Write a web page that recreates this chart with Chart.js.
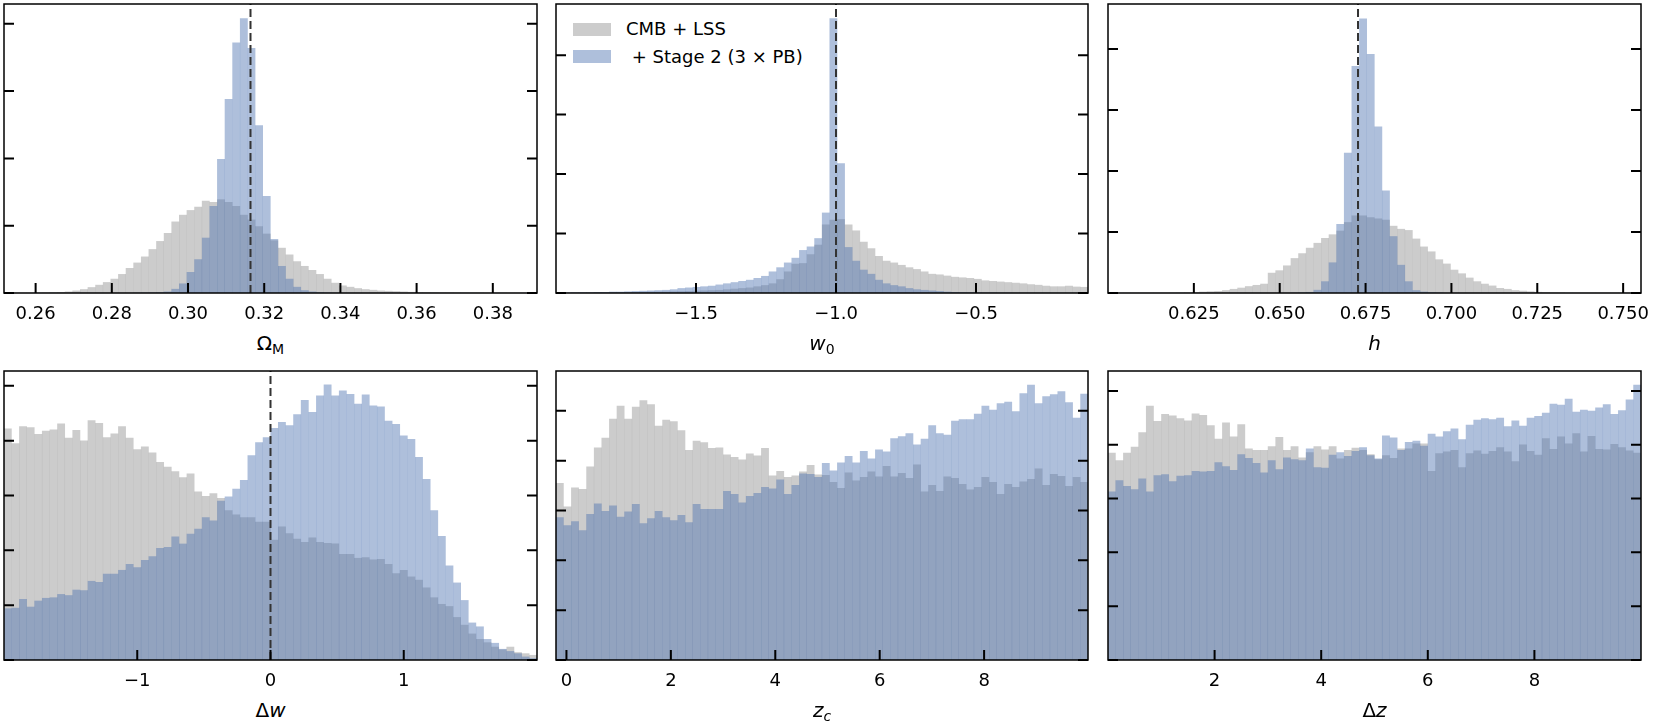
<!DOCTYPE html>
<html>
<head>
<meta charset="utf-8">
<script src="https://cdn.jsdelivr.net/npm/chart.js@4.4.1/dist/chart.umd.min.js"></script>
<style>
  html, body { margin: 0; padding: 0; background: #fff; overflow: hidden; }
  #figure { position: relative; width: 1661px; height: 727px; font-family: 'DejaVu Sans', sans-serif; color: #000; }
  #figure canvas { position: absolute; }
  .axis-title { position: absolute; text-align: center; font-size: 20px; line-height: 24px; white-space: nowrap; }
  .axis-title sub { font-size: 70%; line-height: 0; vertical-align: -0.3em; }
  .legend-patch { position: absolute; left: 573px; width: 38px; height: 13px; }
  .legend-text { position: absolute; left: 626px; font-size: 18px; line-height: 22px; white-space: pre; }
</style>
</head>
<body>
<div id="figure">
  <div class="legend-patch" style="top: 23px; background: rgba(128,128,128,0.4);"></div>
  <div class="legend-text" style="top: 18px;">CMB + LSS</div>
  <div class="legend-patch" style="top: 50px; background: rgba(76,114,176,0.45);"></div>
  <div class="legend-text" style="top: 46px;"> + Stage 2 (3 × PB)</div>
</div>
<script>
// Histogram heights per bin, in units of one y tick step (70 bins per panel)
const OMEGA_GRAY = [0, 0, 0, 0, 0.003, 0.005, 0.008, 0.012, 0.02, 0.035,
  0.055, 0.085, 0.12, 0.16, 0.21, 0.28, 0.37, 0.45, 0.54, 0.65,
  0.77, 0.89, 1.06, 1.16, 1.23, 1.28, 1.37, 1.35, 1.39, 1.35,
  1.29, 1.16, 1.09, 0.99, 0.88, 0.78, 0.67, 0.57, 0.47, 0.40,
  0.34, 0.28, 0.21, 0.15, 0.11, 0.09, 0.07, 0.055, 0.045, 0.035,
  0.03, 0.025, 0.02, 0.015, 0.012, 0.01, 0.008, 0.006, 0.005, 0.004,
  0.003, 0.002, 0.002, 0.001, 0.001, 0.002, 0, 0, 0, 0];
const OMEGA_BLUE = [0, 0, 0, 0, 0, 0, 0, 0, 0, 0,
  0, 0, 0, 0, 0, 0, 0, 0.002, 0.004, 0.006,
  0.01, 0.02, 0.06, 0.14, 0.31, 0.50, 0.82, 1.29, 1.99, 2.88,
  3.72, 4.08, 3.64, 2.49, 1.44, 0.80, 0.40, 0.21, 0.09, 0.04,
  0.02, 0.01, 0.005, 0.002, 0, 0, 0, 0, 0, 0,
  0, 0, 0, 0, 0, 0, 0, 0, 0, 0,
  0, 0, 0, 0, 0, 0, 0, 0, 0, 0];
const OMEGA_RANGE = [0.2517, 0.3916];
const OMEGA_TICKS = [0.26, 0.28, 0.30, 0.32, 0.34, 0.36, 0.38];
const OMEGA_LABELS = ['0.26', '0.28', '0.30', '0.32', '0.34', '0.36', '0.38'];
const OMEGA_TRUE = 0.3164;

const W0_GRAY = [0.005, 0.006, 0.007, 0.008, 0.009, 0.01, 0.011, 0.012, 0.013, 0.014,
  0.015, 0.016, 0.018, 0.02, 0.022, 0.025, 0.028, 0.032, 0.036, 0.04,
  0.045, 0.05, 0.06, 0.07, 0.08, 0.09, 0.11, 0.13, 0.16, 0.23,
  0.36, 0.49, 0.50, 0.65, 0.81, 1.15, 1.23, 1.24, 1.15, 1.05,
  0.86, 0.75, 0.62, 0.54, 0.51, 0.47, 0.43, 0.40, 0.36, 0.32,
  0.31, 0.29, 0.27, 0.26, 0.25, 0.235, 0.21, 0.20, 0.19, 0.18,
  0.17, 0.16, 0.145, 0.135, 0.12, 0.11, 0.11, 0.12, 0.105, 0.10];
const W0_BLUE = [0.005, 0.005, 0.008, 0.01, 0.01, 0.015, 0.015, 0.02, 0.02, 0.025,
  0.03, 0.035, 0.04, 0.045, 0.05, 0.06, 0.08, 0.09, 0.10, 0.11,
  0.12, 0.14, 0.16, 0.18, 0.20, 0.22, 0.25, 0.285, 0.36, 0.43,
  0.51, 0.59, 0.72, 0.78, 0.92, 1.35, 4.62, 2.18, 0.77, 0.54,
  0.39, 0.32, 0.22, 0.16, 0.13, 0.11, 0.08, 0.06, 0.05, 0.04,
  0.03, 0.02, 0.015, 0.012, 0.01, 0.008, 0.006, 0.005, 0.004, 0.003,
  0.002, 0.002, 0.002, 0.002, 0.002, 0.001, 0.001, 0.001, 0.001, 0.001];
const W0_RANGE = [-2.0, -0.1];
const W0_TICKS = [-1.5, -1.0, -0.5];
const W0_LABELS = ['\u22121.5', '\u22121.0', '\u22120.5'];
const W0_TRUE = -1.0;

const H_GRAY = [0, 0, 0, 0, 0, 0, 0, 0, 0.003, 0.005,
  0.008, 0.012, 0.02, 0.025, 0.03, 0.045, 0.065, 0.085, 0.11, 0.13,
  0.15, 0.33, 0.37, 0.45, 0.57, 0.65, 0.74, 0.82, 0.90, 0.96,
  1.02, 1.16, 1.27, 1.27, 1.24, 1.22, 1.20, 1.10, 1.05, 1.03,
  0.89, 0.76, 0.68, 0.55, 0.48, 0.38, 0.32, 0.25, 0.19, 0.15,
  0.12, 0.08, 0.065, 0.045, 0.035, 0.025, 0.016, 0.01, 0.006, 0.004,
  0.002, 0, 0, 0, 0, 0, 0, 0, 0, 0];
const H_BLUE = [0, 0, 0, 0, 0, 0, 0, 0, 0, 0,
  0, 0, 0, 0, 0, 0, 0, 0, 0, 0,
  0, 0, 0, 0, 0.003, 0.008, 0.015, 0.05, 0.19, 0.50,
  1.13, 2.30, 3.72, 4.50, 3.92, 2.73, 1.68, 0.93, 0.46, 0.19,
  0.045, 0.02, 0.01, 0.005, 0, 0, 0, 0, 0, 0,
  0, 0, 0, 0, 0, 0, 0, 0, 0, 0,
  0, 0, 0, 0, 0, 0, 0, 0, 0, 0];
const H_RANGE = [0.600, 0.7552];
const H_TICKS = [0.625, 0.650, 0.675, 0.700, 0.725, 0.750];
const H_LABELS = ['0.625', '0.650', '0.675', '0.700', '0.725', '0.750'];
const H_TRUE = 0.6728;

const DW_GRAY = [4.22, 3.95, 4.26, 4.24, 4.12, 4.18, 4.20, 4.31, 4.05, 4.19,
  4.00, 4.37, 4.32, 4.06, 4.13, 4.26, 4.05, 3.84, 3.89, 3.78,
  3.61, 3.52, 3.44, 3.33, 3.40, 3.07, 2.99, 3.04, 2.95, 2.73,
  2.65, 2.60, 2.60, 2.52, 2.52, 2.19, 2.43, 2.31, 2.21, 2.15,
  2.23, 2.15, 2.13, 2.12, 1.93, 1.93, 1.86, 1.87, 1.83, 1.84,
  1.75, 1.58, 1.64, 1.52, 1.46, 1.32, 1.14, 1.02, 0.98, 0.78,
  0.64, 0.48, 0.38, 0.32, 0.24, 0.19, 0.24, 0.14, 0.12, 0.09];
const DW_BLUE = [0.94, 0.95, 1.11, 0.97, 1.08, 1.13, 1.14, 1.20, 1.18, 1.28,
  1.27, 1.44, 1.42, 1.57, 1.57, 1.64, 1.75, 1.69, 1.82, 1.89,
  2.04, 2.06, 2.25, 2.12, 2.30, 2.39, 2.60, 2.54, 2.90, 2.98,
  3.12, 3.28, 3.73, 3.97, 4.06, 4.23, 4.34, 4.28, 4.48, 4.74,
  4.52, 4.82, 5.02, 4.82, 4.91, 4.85, 4.67, 4.84, 4.64, 4.62,
  4.36, 4.30, 4.09, 4.03, 3.70, 3.30, 2.73, 2.26, 1.72, 1.41,
  1.09, 0.68, 0.61, 0.38, 0.31, 0.20, 0.16, 0.12, 0.06, 0.03];
const DW_RANGE = [-2.0, 2.0];
const DW_TICKS = [-1, 0, 1];
const DW_LABELS = ['\u22121', '0', '1'];
const DW_TRUE = 0;

const ZC_GRAY = [3.55, 3.08, 3.46, 3.43, 3.88, 4.26, 4.46, 4.84, 5.10, 4.84,
  5.08, 5.21, 5.13, 4.70, 4.82, 4.79, 4.61, 4.21, 4.40, 4.37,
  4.25, 4.26, 4.12, 4.07, 4.02, 4.14, 4.10, 4.25, 3.70, 3.79,
  3.67, 3.70, 3.78, 3.91, 3.72, 3.71, 3.57, 3.45, 3.76, 3.60,
  3.67, 3.78, 3.68, 3.89, 3.68, 3.75, 3.65, 3.92, 3.38, 3.51,
  3.39, 3.68, 3.65, 3.53, 3.42, 3.47, 3.67, 3.57, 3.33, 3.53,
  3.47, 3.58, 3.63, 3.84, 3.51, 3.73, 3.69, 3.49, 3.67, 3.57];
const ZC_BLUE = [2.86, 2.70, 2.78, 2.60, 2.93, 3.14, 2.99, 3.10, 2.87, 2.98,
  3.13, 2.74, 2.84, 2.99, 2.86, 2.80, 2.91, 2.76, 3.13, 3.03,
  3.03, 3.03, 3.39, 3.33, 3.16, 3.29, 3.35, 3.47, 3.44, 3.62,
  3.33, 3.51, 3.74, 3.73, 3.67, 3.95, 3.80, 3.96, 4.09, 3.96,
  4.19, 4.04, 4.22, 4.18, 4.45, 4.49, 4.55, 4.32, 4.44, 4.71,
  4.55, 4.52, 4.80, 4.83, 4.83, 4.94, 5.10, 5.02, 5.15, 5.18,
  4.99, 5.35, 5.52, 5.15, 5.29, 5.33, 5.39, 5.17, 4.86, 5.34];
const ZC_RANGE = [-0.2, 9.99];
const ZC_TICKS = [0, 2, 4, 6, 8];
const ZC_LABELS = ['0', '2', '4', '6', '8'];

const DZ_GRAY = [3.85, 3.71, 3.85, 3.96, 4.23, 4.72, 4.44, 4.57, 4.54, 4.49,
  4.45, 4.58, 4.55, 4.36, 4.11, 4.41, 4.15, 4.38, 3.93, 3.90,
  3.90, 3.97, 4.14, 3.90, 3.97, 3.76, 3.86, 3.97, 3.91, 3.97,
  3.74, 3.90, 3.94, 3.90, 3.82, 3.73, 3.80, 3.75, 3.93, 3.93,
  4.02, 4.02, 3.51, 3.84, 3.87, 3.90, 3.58, 3.84, 3.89, 3.83,
  3.88, 3.95, 3.87, 3.69, 4.00, 3.88, 3.81, 4.12, 3.92, 4.15,
  4.02, 4.21, 3.87, 4.16, 3.92, 3.91, 4.01, 3.95, 3.89, 3.85];
const DZ_BLUE = [3.13, 3.34, 3.23, 3.17, 3.37, 3.13, 3.43, 3.45, 3.32, 3.42,
  3.43, 3.51, 3.50, 3.51, 3.67, 3.60, 3.53, 3.82, 3.75, 3.66,
  3.48, 3.71, 3.54, 3.76, 3.73, 3.71, 3.93, 3.58, 3.57, 3.81,
  3.86, 3.79, 3.88, 3.95, 3.80, 3.74, 4.17, 4.13, 3.90, 4.05,
  4.07, 3.98, 4.20, 4.15, 4.25, 4.30, 4.10, 4.37, 4.46, 4.49,
  4.47, 4.50, 4.34, 4.45, 4.35, 4.50, 4.53, 4.59, 4.76, 4.74,
  4.85, 4.61, 4.65, 4.63, 4.69, 4.75, 4.57, 4.64, 4.84, 5.11];
const DZ_RANGE = [0.0, 10.0];
const DZ_TICKS = [2, 4, 6, 8];
const DZ_LABELS = ['2', '4', '6', '8'];

const Y_TICKS_4 = [0, 1, 2, 3, 4];
const Y_TICKS_5 = [0, 1, 2, 3, 4, 5];

const GRAY_FILL = 'rgba(128,128,128,0.4)';
const BLUE_FILL = 'rgba(76,114,176,0.45)';
const FONT = "'DejaVu Sans', sans-serif";

// panel boxes (plot area in page pixels)
const PAD = 30;
const AXIS_H = 34;
const PANELS = [
  { left: 4, top: 4, width: 533, height: 289, gray: OMEGA_GRAY, blue: OMEGA_BLUE, range: OMEGA_RANGE,
    ticks: OMEGA_TICKS, labels: OMEGA_LABELS, truth: OMEGA_TRUE, yMax: 4.294, yTicks: Y_TICKS_4, title: '\u03a9<sub>M</sub>' },
  { left: 556, top: 4, width: 532, height: 289, gray: W0_GRAY, blue: W0_BLUE, range: W0_RANGE,
    ticks: W0_TICKS, labels: W0_LABELS, truth: W0_TRUE, yMax: 4.86, yTicks: Y_TICKS_4, title: '<i>w</i><sub>0</sub>' },
  { left: 1108, top: 4, width: 533, height: 289, gray: H_GRAY, blue: H_BLUE, range: H_RANGE,
    ticks: H_TICKS, labels: H_LABELS, truth: H_TRUE, yMax: 4.74, yTicks: Y_TICKS_4, title: '<i>h</i>' },
  { left: 4, top: 371, width: 533, height: 289, gray: DW_GRAY, blue: DW_BLUE, range: DW_RANGE,
    ticks: DW_TICKS, labels: DW_LABELS, truth: DW_TRUE, yMax: 5.27, yTicks: Y_TICKS_5, title: '\u0394<i>w</i>' },
  { left: 556, top: 371, width: 532, height: 289, gray: ZC_GRAY, blue: ZC_BLUE, range: ZC_RANGE,
    ticks: ZC_TICKS, labels: ZC_LABELS, truth: null, yMax: 5.80, yTicks: Y_TICKS_5, title: '<i>z<sub>c</sub></i>' },
  { left: 1108, top: 371, width: 533, height: 289, gray: DZ_GRAY, blue: DZ_BLUE, range: DZ_RANGE,
    ticks: DZ_TICKS, labels: DZ_LABELS, truth: null, yMax: 5.37, yTicks: Y_TICKS_5, title: '\u0394<i>z</i>' }
];

// spines, inward ticks and the dashed fiducial line
const framePlugin = {
  id: 'frame',
  afterDatasetsDraw(chart, args, opts) {
    const { ctx, chartArea: a, scales: { x, y } } = chart;
    ctx.save();
    if (opts.truth !== null && opts.truth !== undefined) {
      const px = x.getPixelForValue(opts.truth);
      ctx.strokeStyle = '#333';
      ctx.lineWidth = 2;
      ctx.setLineDash([8, 4]);
      ctx.beginPath();
      ctx.moveTo(px, a.bottom);
      ctx.lineTo(px, a.top);
      ctx.stroke();
      ctx.setLineDash([]);
    }
    ctx.strokeStyle = '#000';
    ctx.lineWidth = 2;
    ctx.beginPath();
    opts.xTicks.forEach(v => {
      const px = x.getPixelForValue(v);
      ctx.moveTo(px, a.bottom);
      ctx.lineTo(px, a.bottom - 10);
    });
    opts.yTicks.forEach(v => {
      const py = y.getPixelForValue(v);
      ctx.moveTo(a.left, py);
      ctx.lineTo(a.left + 10, py);
      ctx.moveTo(a.right, py);
      ctx.lineTo(a.right - 10, py);
    });
    ctx.stroke();
    ctx.lineWidth = 1.5;
    ctx.strokeRect(a.left, a.top, a.right - a.left, a.bottom - a.top);
    ctx.restore();
  }
};

function binCenters(range, n) {
  const w = (range[1] - range[0]) / n;
  return Array.from({ length: n }, (_, i) => range[0] + (i + 0.5) * w);
}

const figure = document.getElementById('figure');

PANELS.forEach(p => {
  const canvas = document.createElement('canvas');
  canvas.width = p.width + 2 * PAD;
  canvas.height = 4 + p.height + AXIS_H;
  canvas.style.left = (p.left - PAD) + 'px';
  canvas.style.top = (p.top - 4) + 'px';
  figure.appendChild(canvas);

  const title = document.createElement('div');
  title.className = 'axis-title';
  title.style.left = p.left + 'px';
  title.style.width = p.width + 'px';
  title.style.top = (p.top + p.height + 38) + 'px';
  title.innerHTML = p.title;
  figure.appendChild(title);

  const xs = binCenters(p.range, p.gray.length);
  const histogram = (values, label, color, order) => ({
    label,
    data: values.map((v, i) => ({ x: xs[i], y: v })),
    backgroundColor: color,
    borderWidth: 0,
    inflateAmount: 0.12,
    grouped: false,
    barPercentage: 1,
    categoryPercentage: 1,
    order
  });

  new Chart(canvas, {
    type: 'bar',
    data: {
      datasets: [
        histogram(p.gray, 'CMB + LSS', GRAY_FILL, 2),
        histogram(p.blue, ' + Stage 2 (3 \u00d7 PB)', BLUE_FILL, 1)
      ]
    },
    options: {
      responsive: false,
      animation: false,
      devicePixelRatio: 1,
      layout: { padding: { left: PAD, right: PAD, top: 4, bottom: 0 } },
      plugins: {
        legend: { display: false },
        tooltip: { enabled: false },
        frame: { truth: p.truth, xTicks: p.ticks, yTicks: p.yTicks }
      },
      scales: {
        x: {
          type: 'linear',
          min: p.range[0],
          max: p.range[1],
          offset: false,
          grid: { display: false, drawTicks: false },
          border: { display: false },
          ticks: {
            autoSkip: false,
            maxRotation: 0,
            padding: 11,
            color: '#000',
            font: { family: FONT, size: 18 },
            callback: (value, index) => p.labels[index]
          },
          afterBuildTicks: scale => { scale.ticks = p.ticks.map(v => ({ value: v })); },
          afterFit: scale => { scale.height = AXIS_H; }
        },
        y: {
          display: false,
          min: 0,
          max: p.yMax
        }
      }
    },
    plugins: [framePlugin]
  });
});
</script>
</body>
</html>
